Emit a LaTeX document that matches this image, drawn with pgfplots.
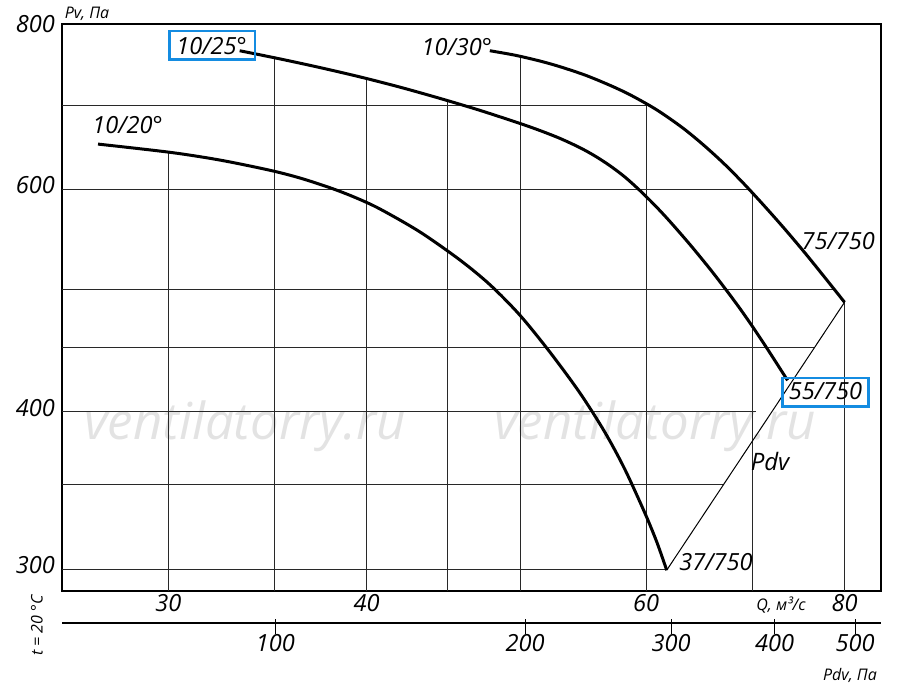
\documentclass[border=0pt]{standalone}
\usepackage{fontspec}
\setmainfont{Open Sans}
\usepackage{pgfplots}
\pgfplotsset{compat=1.18}
\definecolor{boxblue}{RGB}{20,140,225}
\definecolor{gridc}{RGB}{40,40,40}
\newcommand{\lblfont}{\fontsize{11.8}{14}\selectfont\itshape}
\newcommand{\smallfont}{\fontsize{8}{10}\selectfont\itshape}
\begin{document}
\begin{tikzpicture}
\begin{scope}[x=0.5pt,y=0.5pt]
\useasboundingbox (0,0) rectangle (900,691);
% watermark
\node[text=gray!22, font=\fontsize{25.5}{28}\selectfont\itshape] at (245,269) {ventilatorry.ru};
\node[text=gray!22, font=\fontsize{25.5}{28}\selectfont\itshape] at (655,269) {ventilatorry.ru};
\end{scope}
\begin{axis}[at={(31pt,52pt)}, anchor=south west, scale only axis,
  width=409.5pt, height=283.5pt,
  xmode=log, ymode=log,
  xmin=25.71, xmax=84.35, ymin=288.4, ymax=811.8,
  axis line style={line width=1pt},
  xtick={30,40,60,80}, xticklabels={30,40,60,80},
  ytick={300,400,600}, yticklabels={300,400,600},
  extra y ticks={800}, extra y tick labels={800},
  extra y tick style={yticklabel style={yshift=2pt}},
  major tick length=0pt, minor tick length=0pt,
  ticklabel style={font=\lblfont},
  xticklabel style={yshift=2pt},
  yticklabel style={yshift=2pt},
  grid=none]
\pgfplotsset{gl/.style={gridc, line width=0.5pt}}
% vertical grid lines (up to the envelope of the curves)
\addplot[gl] coordinates {(30,280) (30,642.4)};
\addplot[gl] coordinates {(35,280) (35,763.2)};
\addplot[gl] coordinates {(40,280) (40,734.8)};
\addplot[gl] coordinates {(45,280) (45,705.7)};
\addplot[gl] coordinates {(50,280) (50,765.0)};
\addplot[gl] coordinates {(60,280) (60,701.7)};
\addplot[gl] coordinates {(70,280) (70,596.4)};
\addplot[gl] coordinates {(80,280) (80,488.4)};
% horizontal grid lines
\addplot[gl] coordinates {(25,700) (60.2,700)};
\addplot[gl] coordinates {(25,600) (69.69,600)};
\addplot[gl] coordinates {(25,500) (78.85,500)};
\addplot[gl] coordinates {(25,450) (76.63,450)};
\addplot[gl] coordinates {(25,400) (70.4,400)};
\addplot[gl] coordinates {(25,350) (67.11,350)};
\addplot[gl] coordinates {(25,300) (61.81,300)};
% Pdv line
\addplot[black, line width=0.5pt] coordinates {(61.81,299.5) (80,488.4)};
% 10/20 (37/750)
\addplot[black, line width=1.5pt, smooth] coordinates {
(27.09,651.9) (30.06,642.2) (32.32,633.2) (34.75,621.5) (36.30,612.8)
(37.91,602.1) (39.31,591.6) (40.76,579.2) (43.20,555.4) (45.78,527.7)
(47.82,504.4) (49.94,477.2) (52.17,446.0) (54.49,414.0) (56.50,385.4)
(58.16,360.2) (59.88,332.5) (60.93,315.3) (61.81,299.5)};
% 10/25 (55/750)
\addplot[black, line width=1.5pt, smooth] coordinates {
(33.27,773.1) (35.27,761.6) (37.37,749.7) (39.60,737.1) (41.96,723.4)
(44.47,708.7) (47.13,693.4) (49.94,677.0) (51.41,668.3) (52.93,658.8)
(54.49,647.7) (55.69,638.0) (56.91,626.8) (58.16,614.0) (59.44,599.1)
(60.75,583.1) (62.09,566.1) (63.92,542.8) (65.80,519.2) (67.24,501.2)
(68.73,482.9) (70.24,464.3) (71.79,445.4) (73.66,423.5)};
% 10/30 (75/750)
\addplot[black, line width=1.5pt, smooth] coordinates {
(47.82,773.1) (49.61,766.7) (51.46,758.5) (53.00,750.6) (54.99,738.9)
(57.05,724.9) (58.75,712.2) (60.95,693.7) (63.23,671.7) (65.12,651.7)
(67.07,630.1) (69.07,607.2) (71.12,583.4) (73.25,559.5) (75.45,535.4)
(77.69,511.6) (80,488.4)};
\end{axis}
% Pdv scale
\begin{axis}[at={(31pt,36pt)}, anchor=south west, scale only axis,
  width=409.5pt, height=20pt,
  xmode=log, xmin=55.3, xmax=537.4, ymin=0, ymax=1,
  axis x line=bottom, axis y line=none,
  x axis line style={-, line width=1pt},
  xtick={100,200,300,400,500}, xticklabels={100,200,300,400,500},
  minor tick length=0pt,
  tick align=center, major tick length=7.5pt,
  xtick style={black, line width=0.5pt, yshift=-1.75pt},
  xticklabel style={font=\lblfont, yshift=1.5pt}]
\end{axis}
\begin{scope}[x=0.5pt,y=0.5pt]
% axis titles
\node[font=\smallfont] at (87,681.5) {Pv, Па};
\node[font=\smallfont] at (781,90) {Q, м³/с};
\node[font=\smallfont] at (850,19) {Pdv, Па};
\node[font=\smallfont, rotate=90] at (37,69.5) {t = 20 °C};
% curve labels
\node[font=\lblfont] at (127.5,570) {10/20°};
\node[font=\lblfont] at (211.5,649) {10/25°};
\node[font=\lblfont] at (456.7,647.7) {10/30°};
\node[font=\lblfont] at (838.3,453.7) {75/750};
\node[font=\lblfont] at (825.5,303.5) {55/750};
\node[font=\lblfont] at (716,133) {37/750};
\node[font=\fontsize{12}{14}\selectfont\itshape] at (770,233.5) {Pdv};
\draw[boxblue, line width=1.3pt] (169.5,635.5) rectangle (255,664);
\draw[boxblue, line width=1.3pt] (782.7,288.3) rectangle (868.3,317);
\end{scope}
\end{tikzpicture}
\end{document}
